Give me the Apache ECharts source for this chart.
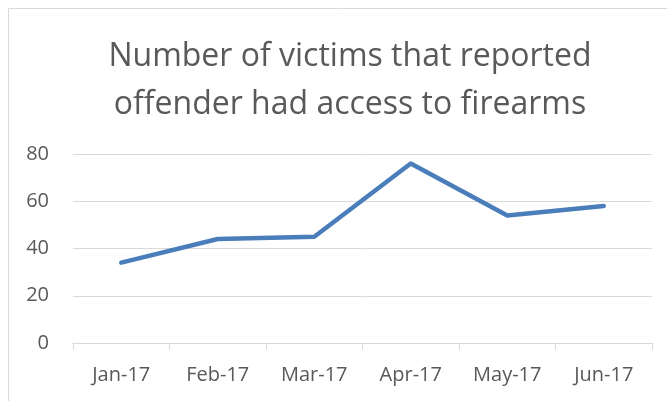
<!DOCTYPE html>
<html><head><meta charset="utf-8">
<script src="https://cdn.jsdelivr.net/npm/echarts@6/dist/echarts.min.js"></script>
<style>html,body{margin:0;padding:0;background:#fff}#c{width:667px;height:401px}</style>
</head><body><div id="c"></div>
<script>
var categories = ['Jan-17','Feb-17','Mar-17','Apr-17','May-17','Jun-17'];
var victims = [34, 44, 45, 76, 54, 58];
var yTicks = [0, 20, 40, 60, 80];
var chart = echarts.init(document.getElementById('c'));
chart.setOption({
  animation: false,
  backgroundColor: '#fff',
  graphic: [{type:'rect', shape:{x:8.5,y:8.5,width:700,height:420}, style:{fill:'none', stroke:'#d9d9d9', lineWidth:1}, silent:true}],
  title: {
    text: 'Number of victims that reported\noffender had access to firearms',
    left: 345, top: 28, textAlign: 'center',
    textStyle: {fontFamily:'Open Sans', fontWeight:'normal', fontSize:32, color:'#595959', lineHeight:48}
  },
  grid: {left:73, right:15, top:154, bottom:58},
  xAxis: {
    type:'category', data: categories, boundaryGap:true,
    axisLine:{lineStyle:{color:'#d9d9d9', width:1}},
    axisTick:{show:true, length:7, lineStyle:{color:'#d9d9d9'}},
    axisLabel:{color:'#595959', fontFamily:'Open Sans', fontSize:20, margin:22}
  },
  yAxis: {
    type:'value', min: yTicks[0], max: yTicks[yTicks.length-1], interval: 20,
    axisLine:{show:false}, axisTick:{show:false},
    splitLine:{lineStyle:{color:'#d9d9d9', width:1}},
    axisLabel:{color:'#595959', fontFamily:'Open Sans', fontSize:20, margin:24}
  },
  series: [{
    type:'line', data: victims, symbol:'none',
    lineStyle:{color:'#4A7EBB', width:4.5, cap:'round', join:'round'}
  }]
});
</script></body></html>
